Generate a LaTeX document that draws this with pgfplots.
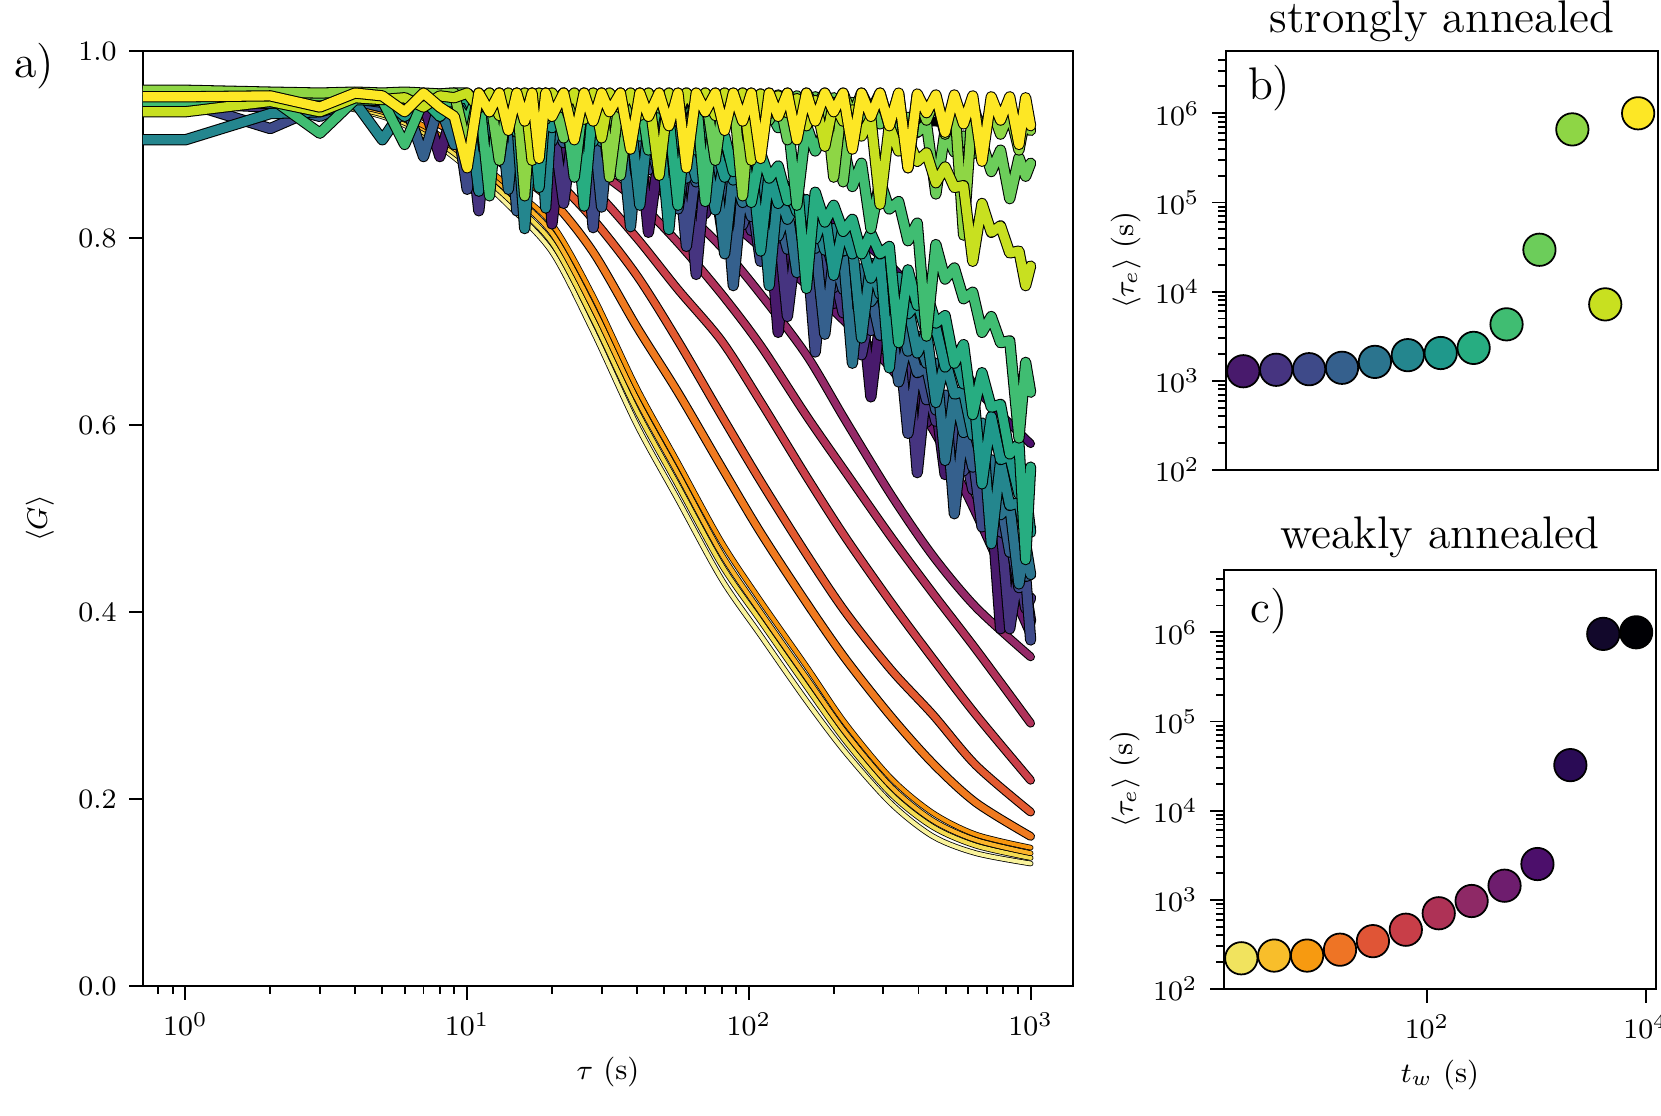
\documentclass[border=0pt]{standalone}
\usepackage{pgfplots}
\usepackage{pgfplotstable}
\pgfplotsset{compat=1.18}

% strongly annealed (viridis)
\definecolor{v1}{HTML}{481A6C}
\definecolor{v2}{HTML}{463480}
\definecolor{v3}{HTML}{3E4A89}
\definecolor{v4}{HTML}{35608D}
\definecolor{v5}{HTML}{2B748E}
\definecolor{v6}{HTML}{24868E}
\definecolor{v7}{HTML}{1F988B}
\definecolor{v8}{HTML}{27AD81}
\definecolor{v9}{HTML}{40BD72}
\definecolor{v10}{HTML}{6CCD5A}
\definecolor{v11}{HTML}{8ED645}
\definecolor{v12}{HTML}{C8E020}
\definecolor{v13}{HTML}{FDE725}
% weakly annealed curves
\definecolor{s1}{HTML}{F9F39C}
\definecolor{s2}{HTML}{F4DC52}
\definecolor{s3}{HTML}{FBB42A}
\definecolor{s4}{HTML}{F8960F}
\definecolor{s5}{HTML}{F07A1F}
\definecolor{s6}{HTML}{E35A30}
\definecolor{s7}{HTML}{CB404A}
\definecolor{s8}{HTML}{B0325A}
\definecolor{s9}{HTML}{952A68}
\definecolor{s10}{HTML}{6A1A6E}
\definecolor{s11}{HTML}{4B0F6B}
\definecolor{s12}{HTML}{280B54}
\definecolor{s13}{HTML}{000004}
% weakly annealed markers
\definecolor{c1}{HTML}{F1E35E}
\definecolor{c2}{HTML}{F8BE2B}
\definecolor{c3}{HTML}{F79A10}
\definecolor{c4}{HTML}{EE7425}
\definecolor{c5}{HTML}{E05536}
\definecolor{c6}{HTML}{C83E48}
\definecolor{c7}{HTML}{AE3256}
\definecolor{c8}{HTML}{8E2966}
\definecolor{c9}{HTML}{6E1D6E}
\definecolor{c10}{HTML}{4C0F6B}
\definecolor{c11}{HTML}{2A0B55}
\definecolor{c12}{HTML}{12082B}
\definecolor{c13}{HTML}{000004}

% <G>(tau), strongly annealed
\pgfplotstableread{
tau V1 V2 V3 V4 V5 V6 V7 V8 V9 V10 V11 V12 V13
0.5 0.942 0.944 0.945 0.946 0.946 0.905 0.948 0.950 0.942 0.955 0.958 0.935 0.951
1 0.942 0.944 0.945 0.946 0.946 0.905 0.948 0.950 0.942 0.955 0.958 0.935 0.951
2 0.945 0.940 0.917 0.944 0.947 0.933 0.948 0.950 0.950 0.953 0.956 0.946 0.952
3 0.947 0.946 0.940 0.930 0.948 0.935 0.946 0.948 0.912 0.952 0.955 0.935 0.940
4 0.948 0.947 0.946 0.947 0.949 0.945 0.950 0.950 0.948 0.955 0.956 0.950 0.955
5 0.946 0.948 0.945 0.940 0.945 0.905 0.950 0.951 0.947 0.954 0.955 0.948 0.952
6 0.945 0.946 0.947 0.946 0.944 0.940 0.930 0.950 0.900 0.955 0.956 0.950 0.935
7 0.944 0.945 0.946 0.887 0.946 0.944 0.948 0.948 0.947 0.950 0.955 0.940 0.955
8 0.887 0.945 0.944 0.945 0.940 0.943 0.947 0.930 0.945 0.954 0.954 0.952 0.940
9 0.942 0.930 0.945 0.944 0.900 0.944 0.945 0.948 0.946 0.955 0.955 0.950 0.930
10 0.915 0.940 0.852 0.945 0.915 0.948 0.925 0.950 0.925 0.955 0.895 0.955 0.875
11 0.934 0.829 0.941 0.924 0.944 0.850 0.949 0.925 0.955 0.943 0.955 0.939 0.955
12 0.897 0.937 0.914 0.942 0.928 0.946 0.928 0.950 0.845 0.955 0.935 0.955 0.935
13 0.931 0.911 0.938 0.911 0.942 0.885 0.947 0.929 0.955 0.883 0.955 0.931 0.955
14 0.870 0.935 0.917 0.940 0.852 0.945 0.916 0.949 0.930 0.955 0.925 0.955 0.915
15 0.929 0.914 0.936 0.829 0.941 0.924 0.946 0.913 0.955 0.935 0.955 0.943 0.955
16 0.908 0.933 0.900 0.938 0.915 0.810 0.930 0.948 0.935 0.955 0.845 0.955 0.925
17 0.927 0.902 0.934 0.912 0.939 0.912 0.945 0.887 0.955 0.939 0.955 0.883 0.955
18 0.897 0.932 0.874 0.937 0.919 0.942 0.854 0.947 0.925 0.955 0.930 0.955 0.885
19 0.926 0.916 0.933 0.916 0.938 0.832 0.944 0.927 0.955 0.927 0.955 0.935 0.955
20 0.815 0.930 0.912 0.935 0.903 0.941 0.918 0.947 0.940 0.955 0.935 0.955 0.930
22 0.922 0.837 0.929 0.902 0.936 0.914 0.942 0.916 0.955 0.907 0.955 0.939 0.955
24 0.894 0.924 0.896 0.930 0.874 0.937 0.920 0.945 0.865 0.955 0.925 0.955 0.905
26 0.917 0.896 0.924 0.912 0.932 0.916 0.939 0.834 0.955 0.939 0.955 0.927 0.955
28 0.894 0.919 0.811 0.925 0.910 0.934 0.903 0.944 0.930 0.955 0.940 0.955 0.925
30 0.912 0.896 0.919 0.833 0.928 0.903 0.937 0.918 0.955 0.931 0.955 0.907 0.955
32 0.880 0.914 0.892 0.921 0.896 0.931 0.876 0.942 0.935 0.955 0.865 0.955 0.935
35 0.907 0.876 0.914 0.894 0.924 0.915 0.935 0.921 0.955 0.867 0.955 0.939 0.955
38 0.889 0.909 0.891 0.916 0.812 0.928 0.914 0.940 0.920 0.955 0.930 0.955 0.895
41 0.901 0.845 0.908 0.893 0.919 0.835 0.932 0.909 0.955 0.935 0.955 0.931 0.955
44 0.806 0.900 0.873 0.908 0.889 0.921 0.898 0.936 0.894 0.955 0.935 0.955 0.930
48 0.889 0.873 0.897 0.867 0.909 0.891 0.923 0.917 0.953 0.939 0.955 0.867 0.955
52 0.858 0.888 0.876 0.896 0.883 0.912 0.809 0.929 0.932 0.955 0.920 0.955 0.920
56 0.878 0.852 0.886 0.831 0.899 0.888 0.915 0.835 0.951 0.931 0.955 0.935 0.955
60 0.853 0.877 0.791 0.886 0.864 0.904 0.887 0.922 0.921 0.955 0.895 0.955 0.875
65 0.867 0.761 0.875 0.860 0.889 0.864 0.908 0.894 0.950 0.943 0.955 0.939 0.955
70 0.826 0.866 0.845 0.875 0.869 0.895 0.884 0.916 0.839 0.955 0.935 0.955 0.935
76 0.855 0.835 0.864 0.839 0.878 0.830 0.899 0.892 0.948 0.883 0.955 0.931 0.955
82 0.790 0.854 0.839 0.864 0.783 0.886 0.865 0.909 0.922 0.955 0.925 0.955 0.915
88 0.845 0.829 0.854 0.749 0.869 0.862 0.892 0.871 0.946 0.935 0.955 0.943 0.955
95 0.819 0.844 0.814 0.854 0.838 0.878 0.873 0.902 0.926 0.955 0.845 0.955 0.925
102 0.833 0.808 0.843 0.823 0.858 0.843 0.883 0.838 0.944 0.939 0.955 0.883 0.955
110 0.795 0.830 0.775 0.840 0.831 0.866 0.786 0.891 0.910 0.954 0.930 0.954 0.885
118 0.817 0.807 0.828 0.813 0.844 0.749 0.869 0.864 0.937 0.926 0.955 0.933 0.955
127 0.699 0.814 0.800 0.826 0.802 0.852 0.837 0.877 0.918 0.953 0.935 0.952 0.930
137 0.801 0.716 0.812 0.788 0.830 0.820 0.855 0.840 0.929 0.905 0.955 0.934 0.955
148 0.768 0.798 0.774 0.810 0.763 0.838 0.828 0.863 0.835 0.952 0.925 0.949 0.905
160 0.784 0.764 0.795 0.787 0.816 0.811 0.841 0.746 0.921 0.936 0.955 0.920 0.955
172 0.756 0.781 0.678 0.795 0.789 0.824 0.799 0.849 0.893 0.951 0.940 0.947 0.925
186 0.768 0.753 0.779 0.697 0.802 0.787 0.827 0.817 0.914 0.927 0.955 0.898 0.955
200 0.730 0.765 0.747 0.780 0.765 0.810 0.760 0.835 0.890 0.950 0.865 0.945 0.935
216 0.750 0.720 0.762 0.745 0.785 0.786 0.812 0.807 0.900 0.860 0.955 0.925 0.955
233 0.725 0.745 0.731 0.760 0.666 0.792 0.783 0.820 0.855 0.945 0.930 0.937 0.895
251 0.730 0.675 0.741 0.730 0.767 0.693 0.795 0.783 0.880 0.923 0.955 0.909 0.955
271 0.630 0.725 0.701 0.740 0.732 0.773 0.757 0.805 0.810 0.940 0.935 0.928 0.930
292 0.711 0.696 0.721 0.696 0.748 0.740 0.779 0.783 0.861 0.922 0.955 0.836 0.955
315 0.676 0.706 0.696 0.721 0.719 0.756 0.661 0.791 0.831 0.935 0.920 0.920 0.920
340 0.685 0.661 0.696 0.646 0.724 0.722 0.758 0.688 0.839 0.908 0.954 0.893 0.955
367 0.649 0.675 0.591 0.691 0.679 0.727 0.719 0.766 0.797 0.929 0.875 0.905 0.875
396 0.653 0.549 0.666 0.656 0.695 0.677 0.731 0.728 0.816 0.913 0.953 0.882 0.954
427 0.603 0.645 0.627 0.662 0.666 0.699 0.698 0.741 0.695 0.922 0.926 0.891 0.934
461 0.622 0.604 0.636 0.616 0.666 0.624 0.704 0.709 0.793 0.847 0.951 0.859 0.953
497 0.547 0.614 0.602 0.632 0.562 0.670 0.662 0.717 0.756 0.915 0.911 0.876 0.913
536 0.590 0.576 0.604 0.505 0.635 0.633 0.676 0.666 0.768 0.892 0.948 0.854 0.953
578 0.552 0.578 0.551 0.597 0.592 0.636 0.644 0.686 0.735 0.909 0.803 0.856 0.922
623 0.555 0.531 0.569 0.555 0.600 0.589 0.643 0.611 0.742 0.890 0.944 0.775 0.952
672 0.507 0.543 0.491 0.562 0.562 0.602 0.537 0.656 0.699 0.902 0.909 0.837 0.882
725 0.517 0.507 0.531 0.523 0.563 0.473 0.609 0.619 0.716 0.871 0.939 0.806 0.951
782 0.382 0.497 0.486 0.519 0.504 0.561 0.563 0.622 0.688 0.894 0.911 0.813 0.926
843 0.467 0.382 0.481 0.464 0.514 0.514 0.567 0.569 0.690 0.842 0.935 0.784 0.951
909 0.416 0.447 0.426 0.470 0.430 0.517 0.526 0.580 0.586 0.886 0.894 0.786 0.900
960 0.424 0.404 0.439 0.438 0.473 0.482 0.531 0.456 0.667 0.866 0.931 0.749 0.950
1000 0.390 0.415 0.370 0.440 0.440 0.490 0.485 0.555 0.635 0.880 0.915 0.770 0.920
}\strong

% <G>(tau), weakly annealed
\pgfplotstableread{
tau S1 S2 S3 S4 S5 S6 S7 S8 S9 S10 S11 S12 S13
0.5 0.950 0.950 0.952 0.953 0.954 0.955 0.955 0.956 0.956 0.955 0.956 0.955 0.954
1 0.950 0.950 0.952 0.953 0.954 0.955 0.955 0.956 0.956 0.955 0.956 0.955 0.954
2 0.950 0.950 0.951 0.952 0.953 0.954 0.955 0.955 0.956 0.955 0.956 0.954 0.953
3 0.945 0.946 0.948 0.949 0.951 0.952 0.953 0.954 0.955 0.953 0.955 0.953 0.952
5 0.930 0.932 0.935 0.938 0.942 0.945 0.948 0.950 0.952 0.950 0.953 0.950 0.950
7 0.910 0.913 0.917 0.920 0.930 0.936 0.940 0.945 0.948 0.946 0.950 0.948 0.948
10 0.875 0.880 0.886 0.890 0.905 0.918 0.927 0.935 0.940 0.938 0.945 0.945 0.946
14 0.835 0.842 0.850 0.856 0.875 0.895 0.910 0.920 0.930 0.928 0.940 0.942 0.944
20 0.785 0.795 0.805 0.815 0.840 0.865 0.885 0.900 0.915 0.915 0.935 0.940 0.942
28 0.700 0.713 0.725 0.738 0.785 0.820 0.852 0.875 0.895 0.900 0.930 0.938 0.940
40 0.600 0.615 0.628 0.640 0.705 0.760 0.800 0.840 0.870 0.880 0.925 0.936 0.938
56 0.520 0.535 0.548 0.560 0.635 0.690 0.745 0.795 0.835 0.855 0.915 0.934 0.936
80 0.435 0.450 0.462 0.475 0.555 0.610 0.690 0.740 0.790 0.825 0.900 0.932 0.934
110 0.375 0.390 0.400 0.412 0.485 0.540 0.625 0.685 0.740 0.790 0.876 0.930 0.932
160 0.305 0.320 0.330 0.342 0.410 0.462 0.545 0.610 0.675 0.750 0.840 0.928 0.930
220 0.250 0.262 0.271 0.281 0.350 0.400 0.480 0.550 0.605 0.710 0.810 0.926 0.928
320 0.195 0.205 0.213 0.222 0.288 0.338 0.410 0.480 0.525 0.660 0.770 0.925 0.926
450 0.160 0.170 0.177 0.185 0.238 0.290 0.350 0.420 0.460 0.595 0.715 0.924 0.925
640 0.142 0.150 0.156 0.162 0.196 0.236 0.290 0.360 0.405 0.505 0.640 0.923 0.924
1000 0.131 0.137 0.142 0.148 0.160 0.186 0.220 0.281 0.352 0.375 0.580 0.922 0.923
}\weak

\pgfplotsset{
  panel/.style={
    scale only axis, anchor=south west,
    tick pos=left, tick align=outside,
    major tick length=0.14cm, minor tick length=0.08cm,
    every tick/.style={black, line width=0.55pt},
    axis line style={line width=0.8pt},
    tick label style={font=\footnotesize},
    label style={font=\fontsize{8.5}{10}\selectfont},
  },
  wcurve/.style={mark=none, smooth, line width=1.9pt, line join=round, line cap=round,
    preaction={draw=black, line width=2.5pt}},
  wthin/.style={mark=none, smooth, line width=1.15pt, line join=round, line cap=round,
    preaction={draw=black, line width=1.6pt}},
  scurve/.style={mark=none, line width=2.6pt, line join=round, line cap=round,
    preaction={draw=black, line width=3.2pt}},
  dot/.style={only marks, mark=*, mark size=4.6pt, draw=black, line width=0.5pt},
}
\tikzset{big/.style={font=\fontsize{13}{15}\selectfont}}

\begin{document}
\begin{tikzpicture}
\useasboundingbox (0,0) rectangle (16.61,11.15);

% a) mean correlation versus lag time
\begin{axis}[panel,
  at={(1.43cm,1.29cm)}, width=9.30cm, height=9.35cm,
  xmode=log, xmin=0.707, xmax=1414, ymin=0, ymax=1,
  xtick={1,10,100,1000},
  minor xtick={0.8,0.9,2,3,4,5,6,7,8,9,20,30,40,50,60,70,80,90,200,300,400,500,600,700,800,900},
  ytick={0,0.2,0.4,0.6,0.8,1.0},
  y tick label style={/pgf/number format/.cd, fixed, fixed zerofill, precision=1},
  xlabel={$\tau$ (s)}, ylabel={$\langle G\rangle$},
  xlabel style={at={(axis description cs:0.5,-0.092)}, anchor=center},
  ylabel style={at={(axis description cs:-0.111,0.5)}, anchor=center},
  clip mode=individual,
]
\addplot[wthin, color=s1] table[x=tau, y=S1] {\weak};
\addplot[wthin, color=s2] table[x=tau, y=S2] {\weak};
\addplot[wthin, color=s3] table[x=tau, y=S3] {\weak};
\addplot[wthin, color=s4] table[x=tau, y=S4] {\weak};
\pgfplotsinvokeforeach{5,...,13}{
  \addplot[wcurve, color=s#1] table[x=tau, y=S#1] {\weak};
}
\pgfplotsinvokeforeach{1,...,13}{
  \addplot[scurve, color=v#1] table[x=tau, y=V#1] {\strong};
}
\node[big] at (axis description cs:-0.117,0.984) {a)};
\end{axis}

% b) strongly annealed
\begin{axis}[panel,
  at={(12.26cm,6.45cm)}, width=4.32cm, height=4.19cm,
  xmode=log, ymode=log, xmin=1.39, xmax=12450, ymin=100, ymax=5000000,
  xtick=\empty, minor xtick={},
  ytick={100,1000,10000,100000,1000000},
  minor ytick={200,300,400,500,600,700,800,900,2000,3000,4000,5000,6000,7000,8000,9000,20000,30000,40000,50000,60000,70000,80000,90000,200000,300000,400000,500000,600000,700000,800000,900000,2000000,3000000,4000000},
  ylabel={$\langle\tau_e\rangle$ (s)},
  ylabel style={at={(axis description cs:-0.231,0.5)}, anchor=center},
  clip=false,
]
\addplot[dot, fill=v1] coordinates {(2,1280)};
\addplot[dot, fill=v2] coordinates {(4,1330)};
\addplot[dot, fill=v3] coordinates {(8,1350)};
\addplot[dot, fill=v4] coordinates {(16,1400)};
\addplot[dot, fill=v5] coordinates {(32,1630)};
\addplot[dot, fill=v6] coordinates {(64,1940)};
\addplot[dot, fill=v7] coordinates {(128,2050)};
\addplot[dot, fill=v8] coordinates {(256,2340)};
\addplot[dot, fill=v9] coordinates {(512,4300)};
\addplot[dot, fill=v10] coordinates {(1024,29500)};
\addplot[dot, fill=v11] coordinates {(2048,660000)};
\addplot[dot, fill=v12] coordinates {(4096,7200)};
\addplot[dot, fill=v13] coordinates {(8192,1000000)};
\node[big] at (axis description cs:0.10,0.912) {b)};
\node[big] at (axis description cs:0.5,1.07) {strongly annealed};
\end{axis}

% c) weakly annealed
\begin{axis}[panel,
  at={(12.24cm,1.26cm)}, width=4.32cm, height=4.19cm,
  xmode=log, ymode=log, xmin=1.39, xmax=12450, ymin=100, ymax=5000000,
  xtick={100,10000}, minor xtick={},
  ytick={100,1000,10000,100000,1000000},
  minor ytick={200,300,400,500,600,700,800,900,2000,3000,4000,5000,6000,7000,8000,9000,20000,30000,40000,50000,60000,70000,80000,90000,200000,300000,400000,500000,600000,700000,800000,900000,2000000,3000000,4000000},
  xlabel={$t_w$ (s)}, ylabel={$\langle\tau_e\rangle$ (s)},
  xlabel style={at={(axis description cs:0.5,-0.205)}, anchor=center},
  ylabel style={at={(axis description cs:-0.229,0.5)}, anchor=center},
  clip=false,
]
\addplot[dot, fill=c1] coordinates {(2,221)};
\addplot[dot, fill=c2] coordinates {(4,237)};
\addplot[dot, fill=c3] coordinates {(8,237)};
\addplot[dot, fill=c4] coordinates {(16,276)};
\addplot[dot, fill=c5] coordinates {(32,344)};
\addplot[dot, fill=c6] coordinates {(64,462)};
\addplot[dot, fill=c7] coordinates {(128,707)};
\addplot[dot, fill=c8] coordinates {(256,970)};
\addplot[dot, fill=c9] coordinates {(512,1440)};
\addplot[dot, fill=c10] coordinates {(1024,2520)};
\addplot[dot, fill=c11] coordinates {(2048,32400)};
\addplot[dot, fill=c12] coordinates {(4096,960000)};
\addplot[dot, fill=c13] coordinates {(8192,1000000)};
\node[big] at (axis description cs:0.104,0.902) {c)};
\node[big] at (axis description cs:0.5,1.079) {weakly annealed};
\end{axis}
\end{tikzpicture}
\end{document}
